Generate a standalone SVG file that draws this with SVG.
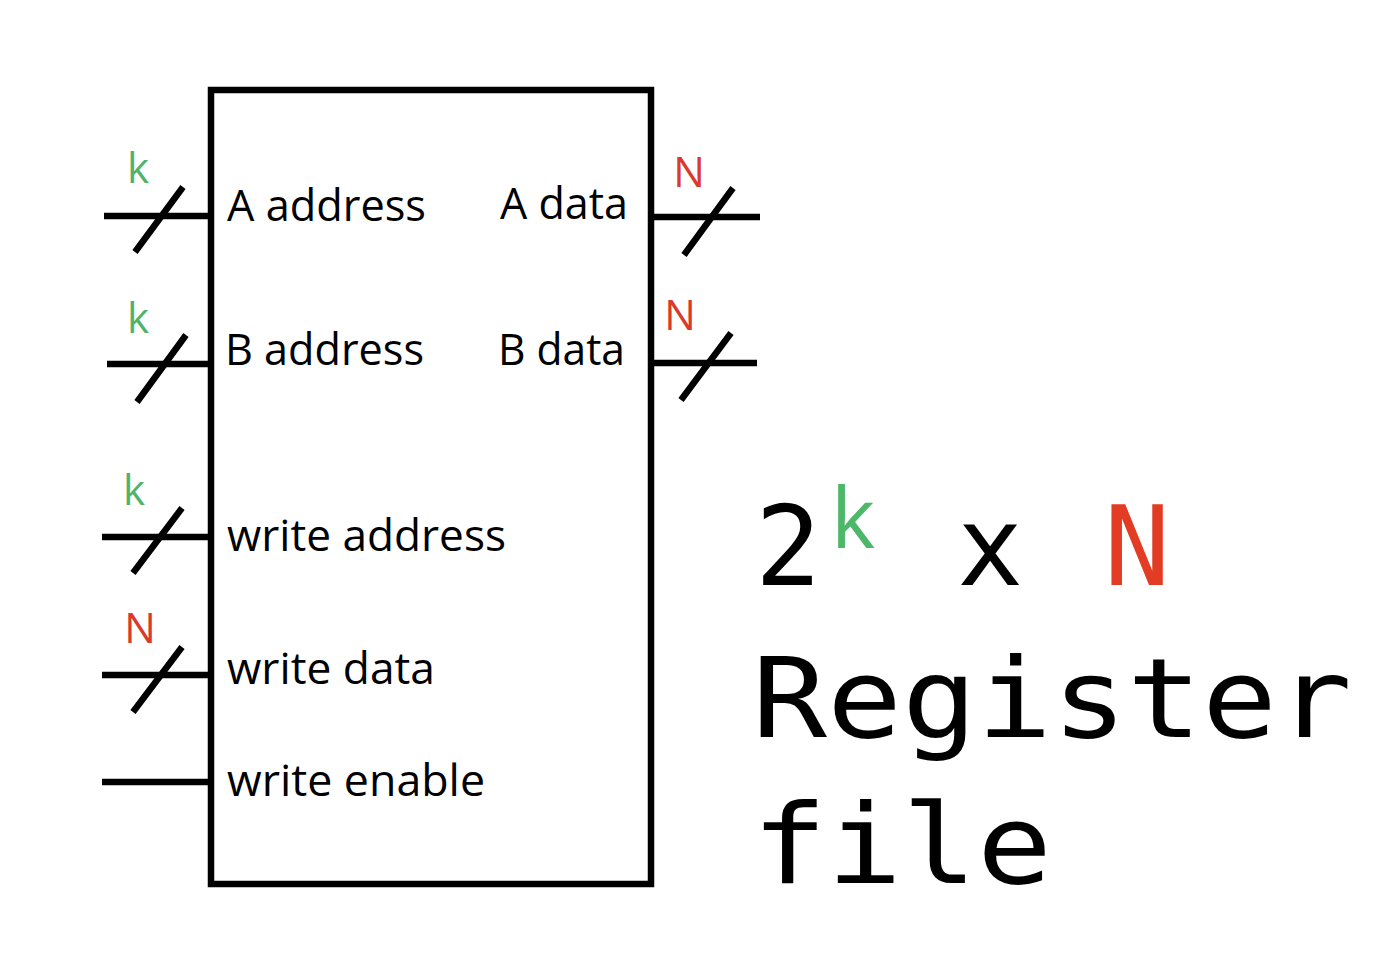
<svg xmlns="http://www.w3.org/2000/svg" width="1384" height="964" viewBox="0 0 1384 964">
<style>
.wire{stroke:#000;stroke-width:6.5;fill:none;stroke-linecap:butt}
.box{stroke:#000;stroke-width:6.5;fill:#fff}
.lbl{font-family:"Open Sans","Noto Sans","DejaVu Sans",sans-serif;font-size:43px;fill:#000}
.k{font-family:"Open Sans","Noto Sans","DejaVu Sans",sans-serif;font-size:42px;fill:#4fb36b;text-anchor:middle}
.n{font-family:"Open Sans","Noto Sans","DejaVu Sans",sans-serif;font-size:42px;fill:#d93a2c;text-anchor:middle}
.big{font-family:"DejaVu Sans Mono","Liberation Mono",monospace;font-size:110px;fill:#000}
.bigN{font-family:"DejaVu Sans Mono","Liberation Mono",monospace;font-size:110px;fill:#e23c25}
.bigk{font-family:"Open Sans","Noto Sans",sans-serif;font-size:84px;fill:#4db86a}
</style>
<rect width="1384" height="964" fill="#fff"/>
<g id="register-file">
<rect class="box" x="211" y="90" width="440" height="794"/>
<text class="lbl" x="227" y="221" textLength="199" lengthAdjust="spacingAndGlyphs">A address</text>
<text class="lbl" x="500" y="219" textLength="128" lengthAdjust="spacingAndGlyphs">A data</text>
<text class="lbl" x="225" y="365" textLength="199" lengthAdjust="spacingAndGlyphs">B address</text>
<text class="lbl" x="498" y="365" textLength="127" lengthAdjust="spacingAndGlyphs">B data</text>
<text class="lbl" x="227" y="551" textLength="279" lengthAdjust="spacingAndGlyphs">write address</text>
<text class="lbl" x="227" y="684" textLength="208" lengthAdjust="spacingAndGlyphs">write data</text>
<text class="lbl" x="227" y="796" textLength="258" lengthAdjust="spacingAndGlyphs">write enable</text>
</g>
<g id="connectors">
<path class="wire" d="M104 216H211M107 364H211M102 537H211M102 675H211M102 782H211M651 217H760M651 363H757"/>
<path class="wire" d="M135 252L183 187M137 402L186 335M133 573L182 508M133 712L182 647M684 255L733 188M681 400L731 333"/>
</g>
<g id="width-labels">
<text class="k" x="138" y="183">k</text>
<text class="k" x="138" y="333">k</text>
<text class="k" x="134" y="505">k</text>
<text class="n" x="140" y="643">N</text>
<text class="n" x="689" y="187">N</text>
<text class="n" x="680" y="330">N</text>
</g>
<g id="title">
<text class="big" x="788" y="585" text-anchor="middle">2</text>
<text class="bigk" x="853" y="548" text-anchor="middle">k</text>
<text class="big" x="990" y="585" text-anchor="middle">x</text>
<text class="bigN" x="1137" y="585" text-anchor="middle">N</text>
<text class="big" x="752" y="737" textLength="600" lengthAdjust="spacingAndGlyphs">Register</text>
<text class="big" x="752" y="883" textLength="300" lengthAdjust="spacingAndGlyphs">file</text>
</g>
</svg>
